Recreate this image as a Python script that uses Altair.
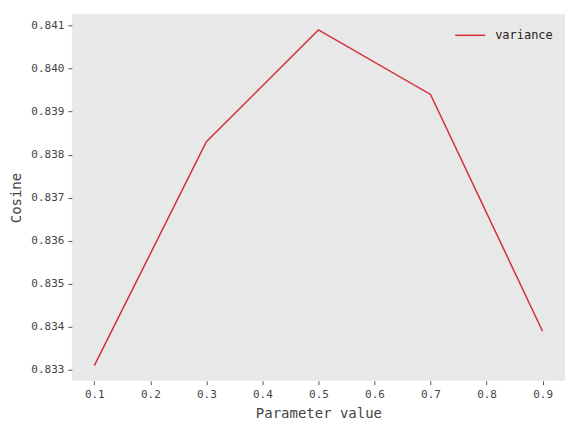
import altair as alt
import pandas as pd

params = [0.1, 0.3, 0.5, 0.7, 0.9]
cosine = [0.8331, 0.8383, 0.8409, 0.8394, 0.8339]
series = ["variance"] * len(params)
x_ticks = [0.1, 0.2, 0.3, 0.4, 0.5, 0.6, 0.7, 0.8, 0.9]
y_ticks = [0.833, 0.834, 0.835, 0.836, 0.837, 0.838, 0.839, 0.840, 0.841]

df = pd.DataFrame({"param": params, "cosine": cosine, "series": series})

FONT = "DejaVu Sans Mono"
RED = "#d3303c"

chart = alt.Chart(df).mark_line(strokeWidth=1.5).encode(
    x=alt.X("param:Q",
            scale=alt.Scale(domain=[0.06, 0.94], nice=False, zero=False),
            axis=alt.Axis(values=x_ticks, format=".1f", title="Parameter value",
                          grid=False, domain=False, tickColor="#555", tickSize=4,
                          labelPadding=4, labelFontSize=11, titleFontSize=14,
                          titleFontWeight="normal", labelColor="#444", titleColor="#444",
                          titlePadding=7)),
    y=alt.Y("cosine:Q",
            scale=alt.Scale(domain=[0.83275, 0.84126], nice=False, zero=False),
            axis=alt.Axis(values=y_ticks, format=".3f", title="Cosine",
                          grid=False, domain=False, tickColor="#555", tickSize=4,
                          labelPadding=4, labelFontSize=11, titleFontSize=14,
                          titleFontWeight="normal", labelColor="#444", titleColor="#444",
                          titlePadding=7)),
    color=alt.Color("series:N", scale=alt.Scale(range=[RED]),
                    legend=alt.Legend(title=None, orient="none", legendX=383, legendY=5,
                                      symbolType="stroke", symbolStrokeWidth=1.5,
                                      symbolSize=900, labelFontSize=12, labelColor="#222",
                                      labelOffset=9, labelFont=FONT)),
).properties(
    width=494, height=367,
    padding={"left": 64, "top": 6, "right": 2, "bottom": 46},
    autosize=alt.AutoSizeParams(type="none"),
).configure_view(
    fill="#e8e8e8", stroke=None
).configure_axis(
    labelFont=FONT, titleFont=FONT
)

chart.save("out.html", embed_options={"renderer": "svg", "actions": False})
